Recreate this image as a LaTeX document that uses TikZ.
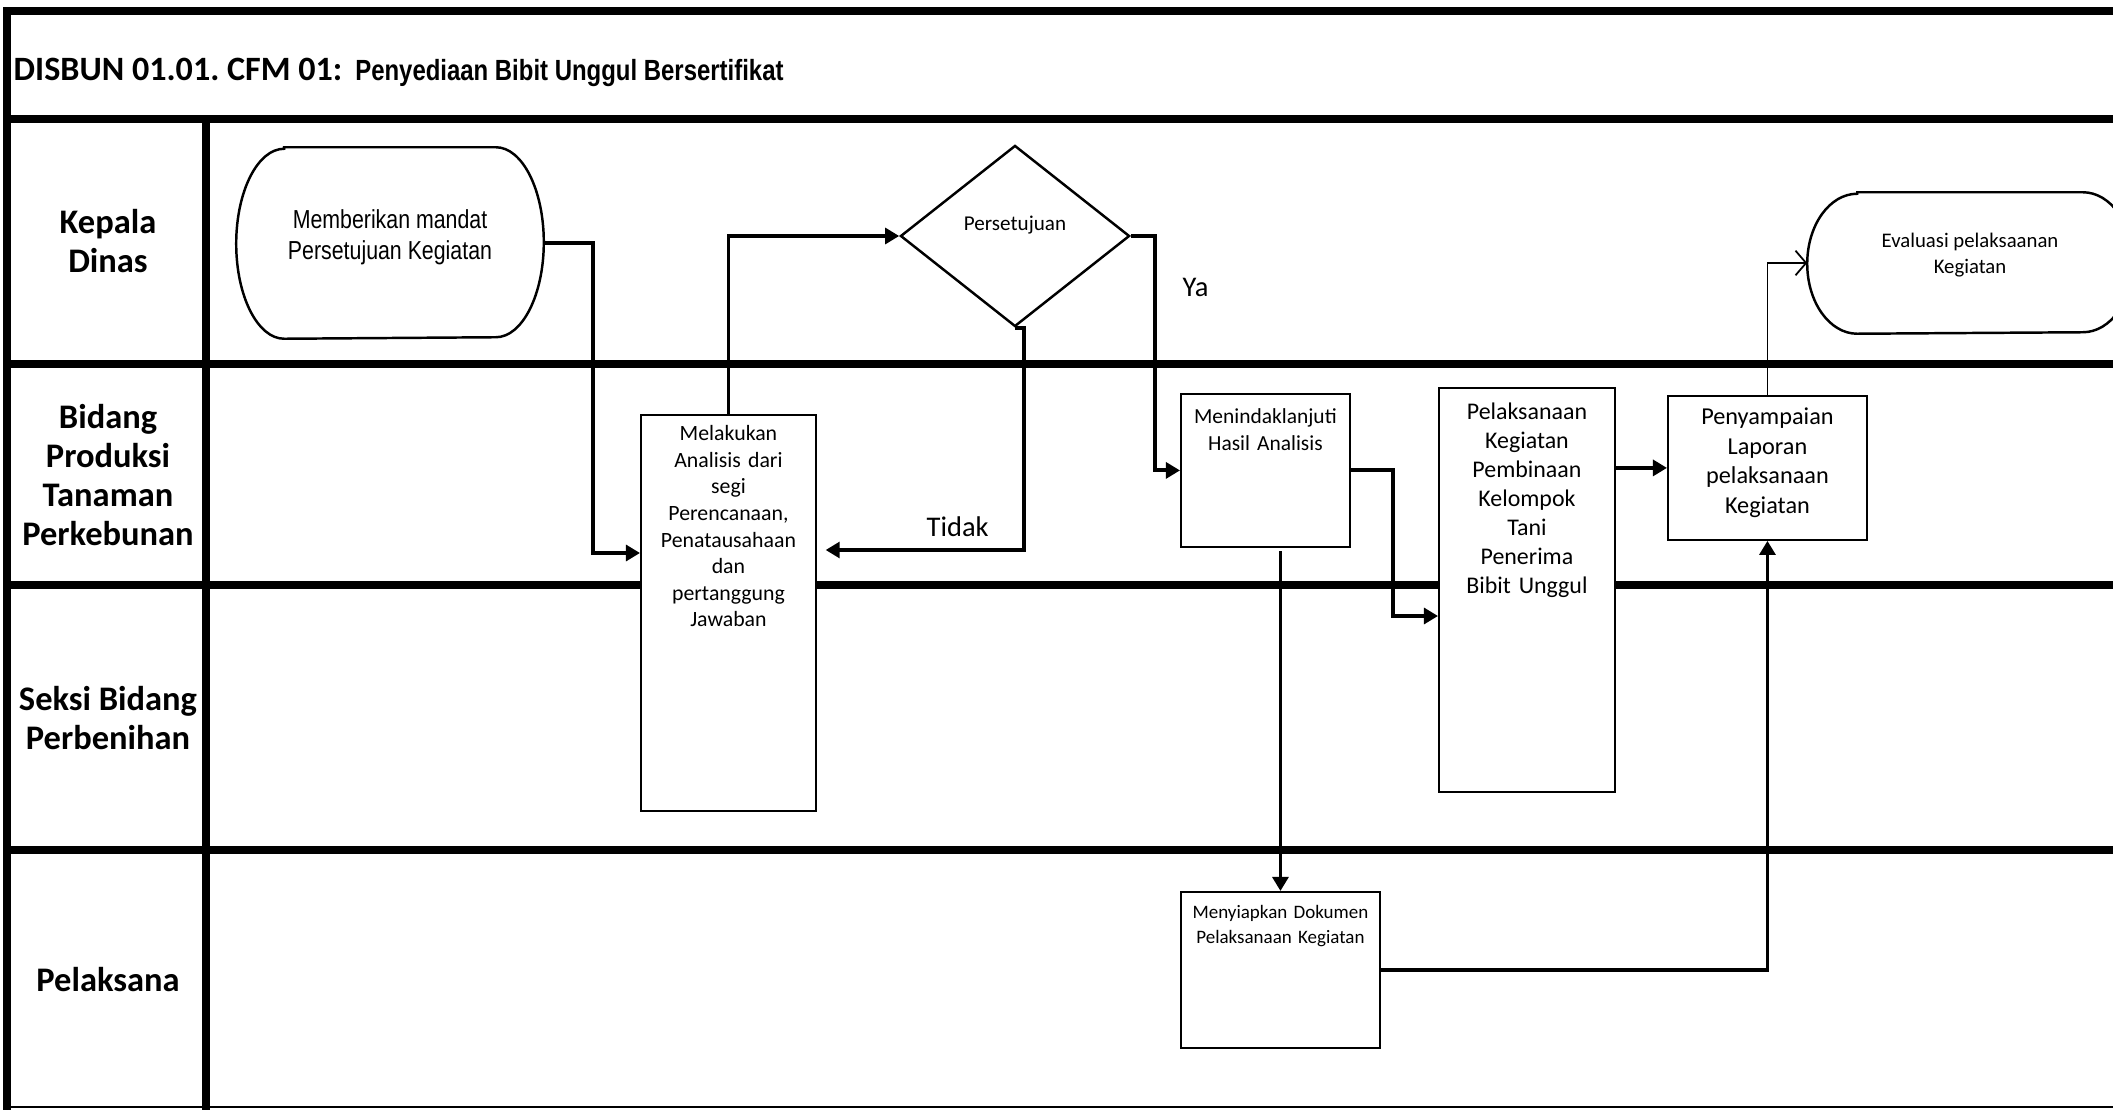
\documentclass[tikz,border=0pt]{standalone}
\usepackage{fontspec}
\setmainfont{Carlito}
\newfontfamily\narrowfont{Liberation Sans}[FakeStretch=0.82]
\usetikzlibrary{shapes.geometric,arrows.meta,calc}
\frenchspacing

\begin{document}
\begin{tikzpicture}[x=0.01cm, y=-0.01cm,
    lane/.style={line width=2.3pt},
    lanetext/.style={font=\bfseries\fontsize{9.8}{11.1}\selectfont, align=center, inner sep=0pt},
    proc/.style={draw, line width=0.5pt, fill=white, anchor=north west, inner xsep=0pt, inner ysep=0pt, align=center},
    terminal/.style={inner sep=0pt, align=center},
    termline/.style={line width=0.7pt},
    decision/.style={diamond, draw, line width=0.7pt, fill=white, inner sep=0pt},
    flow/.style={line width=1.1pt, -{Triangle[length=4pt, width=4.5pt]}},
    thinflow/.style={line width=0.5pt, -{Straight Barb[length=3pt, width=7pt]}},
    answer/.style={font=\fontsize{8.1}{9.7}\selectfont}]
    \useasboundingbox (0,0) rectangle (2113,1110);

    % frame and swimlanes
    \draw[lane] (2120,11) -- (7,11) -- (7,1112);
    \draw[lane] (7,119) -- (2120,119);
    \draw[lane] (206,119) -- (206,1112);
    \draw[lane] (7,364) -- (2120,364);
    \draw[lane] (7,585) -- (2120,585);
    \draw[lane] (7,850) -- (2120,850);
    \draw[line width=0.6pt] (7,1107) -- (2120,1107);

    \node[anchor=base west, inner sep=0pt] (title) at (13,81)
        {\fontsize{9.7}{11}\selectfont\bfseries DISBUN 01.01. CFM 01:\hspace{1.5pt} {\narrowfont\fontsize{8.3}{10}\selectfont Penyediaan Bibit Unggul Bersertifikat}};

    % lane names
    \node[lanetext] (kadis) at (108,241) {Kepala\\Dinas};
    \node[lanetext] (bidang) at (108,475) {Bidang\\Produksi\\Tanaman\\Perkebunan};
    \node[lanetext] (seksi) at (108,718) {Seksi Bidang\\Perbenihan};
    \node[lanetext] (pelaksana) at (108,980) {Pelaksana};

    % steps
    \node[terminal, minimum width=3.06cm, minimum height=1.90cm, text height=14.1pt, text depth=4.6pt,
        font=\narrowfont\fontsize{7.4}{8.8}\selectfont] (mandat) at (390,243) {Memberikan mandat\\Persetujuan Kegiatan};
    \node[decision, minimum width=2.29cm, minimum height=1.81cm, text height=4pt, text depth=7pt,
        font=\fontsize{6}{7}\selectfont] (setuju) at (1015,236) {Persetujuan};
    \node[proc, text width=1.75cm, text height=0.26cm, text depth=3.70cm,
        font=\fontsize{6.2}{7.55}\selectfont] (analisis) at (640,414)
        {Melakukan\\Analisis dari\\segi\\Perencanaan,\\Penatausahaan\\dan\\pertanggung\\Jawaban};
    \node[proc, text width=1.69cm, text height=0.30cm, text depth=1.23cm,
        font=\fontsize{6.1}{7.7}\selectfont] (tindak) at (1180,393) {Menindaklanjuti\\Hasil Analisis};
    \node[proc, text width=1.76cm, text height=0.32cm, text depth=3.72cm,
        font=\fontsize{6.8}{8.25}\selectfont] (bina) at (1438,387)
        {Pelaksanaan\\Kegiatan\\Pembinaan\\Kelompok\\Tani\\Penerima\\Bibit Unggul};
    \node[proc, text width=1.99cm, text height=0.29cm, text depth=1.15cm,
        font=\fontsize{6.9}{8.4}\selectfont] (laporan) at (1667,395) {Penyampaian\\Laporan\\pelaksanaan\\Kegiatan};
    \node[proc, text width=1.99cm, text height=0.27cm, text depth=1.29cm,
        font=\fontsize{5.4}{6.9}\selectfont] (dokumen) at (1180,891) {Menyiapkan Dokumen\\Pelaksanaan Kegiatan};
    \node[terminal, minimum width=3.24cm, minimum height=1.40cm, text height=11.7pt, text depth=5.8pt,
        font=\fontsize{5.9}{7.3}\selectfont] (evaluasi) at (1970,263) {Evaluasi pelaksaanan\\Kegiatan};

    % terminator outlines
    \draw[termline] ($(mandat.north west)+(48,0)$) -- ($(mandat.north east)+(-48,0)$)
        arc[start angle=-90, end angle=90, x radius=48, y radius=95]
        -- ($(mandat.south west)+(48,0)$)
        arc[start angle=90, end angle=270, x radius=48, y radius=95] -- cycle;
    \draw[termline] ($(evaluasi.north west)+(50,0)$) -- ($(evaluasi.north east)+(-50,0)$)
        arc[start angle=-90, end angle=90, x radius=50, y radius=70]
        -- ($(evaluasi.south west)+(50,0)$)
        arc[start angle=90, end angle=270, x radius=50, y radius=70] -- cycle;

    % connectors
    \draw[flow] (mandat.east) -- (593,243) |- (analisis.west |- 593,553);
    \draw[flow] (analisis.north) |- (setuju.west);
    \draw[flow, shorten >=2.5pt] (setuju.south) -| (1024,550)
        -- node[answer, above, pos=0.32] {Tidak} (analisis.east |- 1024,550);
    \draw[flow] (setuju.east) -- (1155,236) |- node[answer, right=4pt, pos=0.11] {Ya} (tindak.west);
    \draw[flow] (tindak.east) -| (1393,616) -- (bina.west |- 1393,616);
    \draw[flow, shorten <=1pt] (dokumen.north |- tindak.south) -- (dokumen.north);
    \draw[flow] (dokumen.east) -| (laporan.south);
    \draw[flow] (bina.east |- laporan.west) -- (laporan.west);
    \draw[thinflow] (laporan.north) |- (evaluasi.west);
\end{tikzpicture}
\end{document}
